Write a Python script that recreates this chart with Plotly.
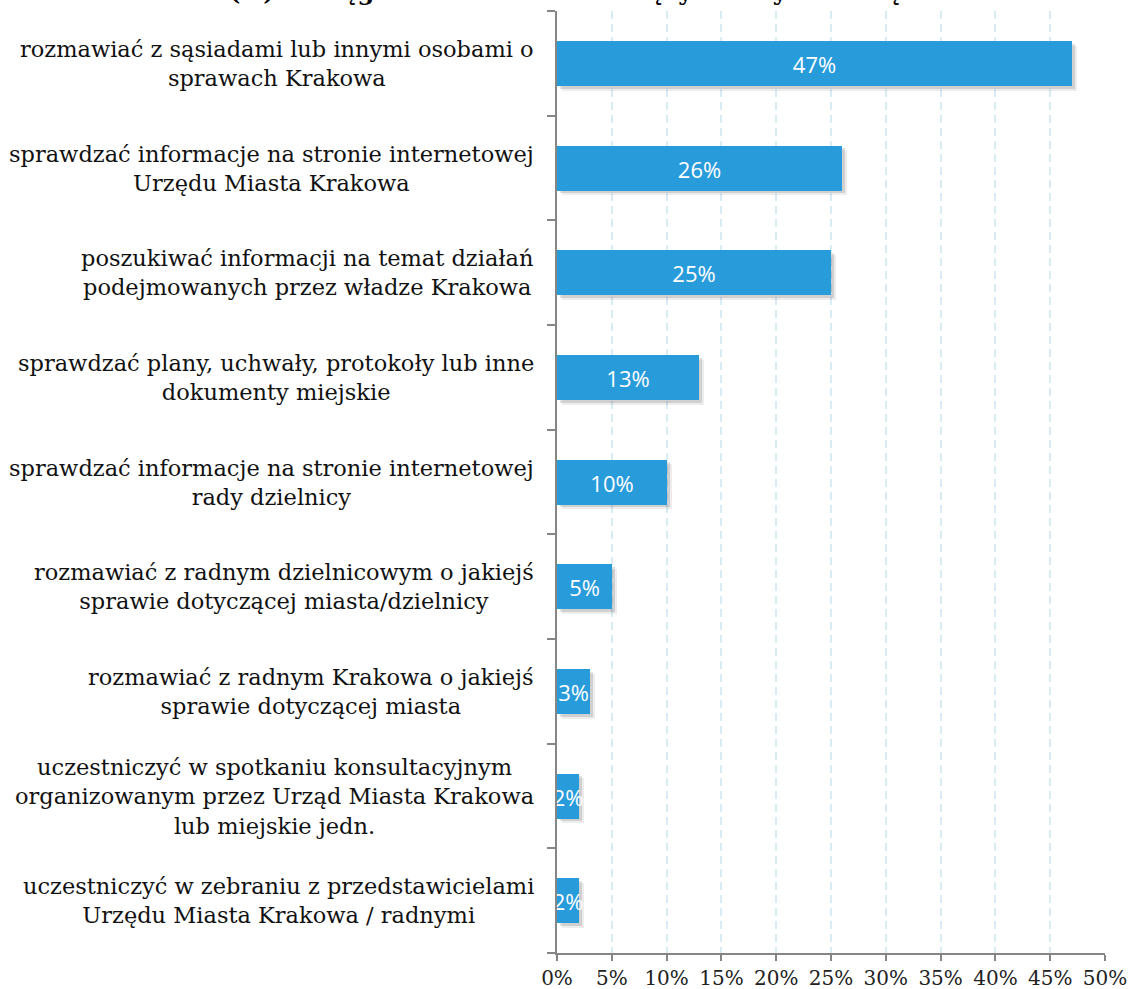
import plotly.graph_objects as go

# Activities, top to bottom, and the share of respondents (%) for each
categories = [
    "rozmawiać z sąsiadami lub innymi osobami o<br>sprawach Krakowa",
    "sprawdzać informacje na stronie internetowej<br>Urzędu Miasta Krakowa",
    "poszukiwać informacji na temat działań<br>podejmowanych przez władze Krakowa",
    "sprawdzać plany, uchwały, protokoły lub inne<br>dokumenty miejskie",
    "sprawdzać informacje na stronie internetowej<br>rady dzielnicy",
    "rozmawiać z radnym dzielnicowym o jakiejś<br>sprawie dotyczącej miasta/dzielnicy",
    "rozmawiać z radnym Krakowa o jakiejś<br>sprawie dotyczącej miasta",
    "uczestniczyć w spotkaniu konsultacyjnym<br>organizowanym przez Urząd Miasta Krakowa<br>lub miejskie jedn.",
    "uczestniczyć w zebraniu z przedstawicielami<br>Urzędu Miasta Krakowa / radnymi",
]
values = [47, 26, 25, 13, 10, 5, 3, 2, 2]
value_labels = ["47%", "26%", "25%", "13%", "10%", "5%", "3%", "2%", "2%"]

x_ticks = [0, 5, 10, 15, 20, 25, 30, 35, 40, 45, 50]
x_tick_labels = ["0%", "5%", "10%", "15%", "20%", "25%", "30%", "35%", "40%", "45%", "50%"]

title_text = "(%) W ciągu ostatnich 12 miesięcy zdarzyło mi się"

BAR_COLOR = "#289BDB"
AXIS_COLOR = "#868686"
GRID_COLOR = "#D8ECF4"
SERIF = "DejaVu Serif"

W, H = 1130, 989
M_L, M_R, M_T, M_B = 557, 25, 11, 36

positions = list(range(len(categories)))
bar_width = 0.43

fig = go.Figure()

# soft drop shadow: two offset layers under each bar
for dx, dy, alpha in [(0.45, 0.045, 0.07), (0.27, 0.028, 0.12)]:
    fig.add_trace(go.Bar(
        x=values, y=positions, base=dx, orientation="h",
        width=bar_width, offset=-bar_width / 2 + dy,
        marker=dict(color=f"rgba(0,0,0,{alpha})", line=dict(width=0)),
        hoverinfo="skip", showlegend=False,
    ))

fig.add_trace(go.Bar(
    x=values, y=positions, orientation="h",
    width=bar_width, offset=-bar_width / 2,
    marker=dict(color=BAR_COLOR, line=dict(width=0)),
    text=value_labels, textposition="inside", insidetextanchor="middle",
    constraintext="none", textangle=0,
    textfont=dict(family="Open Sans", size=22, color="white"),
    showlegend=False,
))

# category labels: right-aligned block, centred lines
for pos, label in zip(positions, categories):
    fig.add_annotation(
        x=0, xref="paper", y=pos, yref="y",
        xanchor="right", yanchor="middle", align="center",
        xshift=-21, text=label, showarrow=False,
        font=dict(family=SERIF, size=22.5, color="#111111"),
    )

# heading runs off the top edge of the page, centred on the full width
plot_w = W - M_L - M_R
fig.add_annotation(
    x=0.5, xref="paper", xshift=(W / 2) - (M_L + plot_w / 2),
    y=1, yref="paper", yanchor="bottom", yshift=3,
    text=title_text, showarrow=False,
    font=dict(family=SERIF, size=24, color="black", weight="bold"),
)

fig.update_layout(
    width=W, height=H,
    margin=dict(l=M_L, r=M_R, t=M_T, b=M_B, autoexpand=False),
    paper_bgcolor="white", plot_bgcolor="white",
    barmode="overlay", bargap=0,
    xaxis=dict(
        range=[0, 50], tickvals=x_ticks, ticktext=x_tick_labels,
        automargin=False,
        showgrid=True, gridcolor=GRID_COLOR, gridwidth=1.5, griddash="8px,5px",
        zeroline=False, showline=True, linecolor=AXIS_COLOR, linewidth=1.5,
        ticks="outside", ticklen=6, tickcolor=AXIS_COLOR, tickwidth=1.5,
        tickfont=dict(family=SERIF, size=20, color="#222222"),
        fixedrange=True,
    ),
    yaxis=dict(
        range=[len(categories) - 0.5, -0.5],
        tickvals=[p - 0.5 for p in positions] + [len(categories) - 0.5],
        automargin=False,
        showticklabels=False, showgrid=False, zeroline=False,
        showline=True, linecolor=AXIS_COLOR, linewidth=1.5,
        ticks="outside", ticklen=8, tickcolor=AXIS_COLOR, tickwidth=1.5,
        fixedrange=True,
    ),
)

fig.write_html("out.html")
